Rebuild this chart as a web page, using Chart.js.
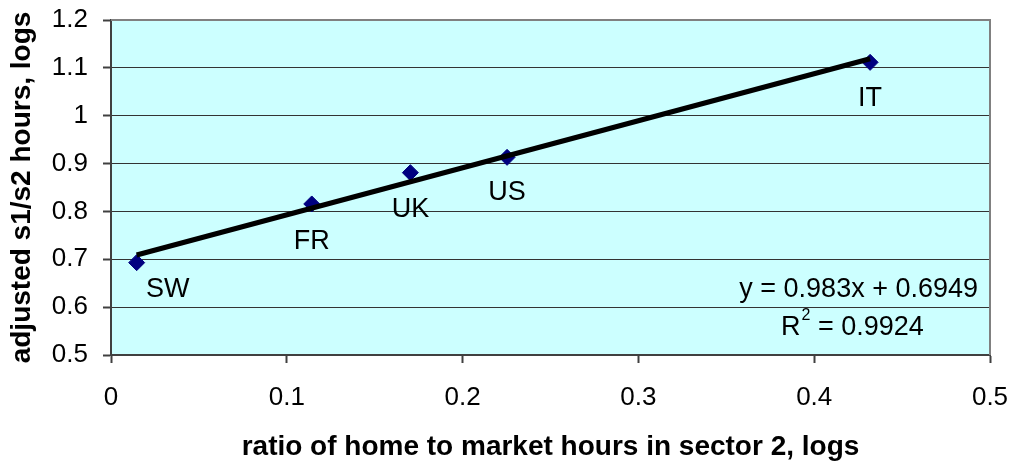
<!DOCTYPE html>
<html>
<head>
<meta charset="utf-8">
<script src="https://cdn.jsdelivr.net/npm/chart.js@4/dist/chart.umd.min.js"></script>
<style>
  body { margin: 0; background: #fff; }
  #wrap { width: 1016px; height: 464px; }
</style>
</head>
<body>
<div id="wrap"><canvas id="chart"></canvas></div>
<script>
const countries = ['SW', 'FR', 'UK', 'US', 'IT'];
const homeRatio = [0.0146, 0.1142, 0.1703, 0.2253, 0.4318];
const adjHours = [0.693, 0.8156, 0.881, 0.913, 1.1115];
const trendX = [0.0146, 0.4318];
const trendY = [0.709, 1.119];
const equationText = 'y = 0.983x + 0.6949';
const rSquaredText = '0.9924';

const FONT = "'Liberation Sans', Arial, sans-serif";

const points = homeRatio.map((x, i) => ({ x, y: adjHours[i] }));
const trend = trendX.map((x, i) => ({ x, y: trendY[i] }));

// where each country label sits relative to its marker
const labelOffsets = [[31, 27], [0, 38], [0, 37], [0, 35], [0, 36]];

const plotBackground = {
  id: 'plotBackground',
  beforeDraw(chart) {
    const { ctx, chartArea: a } = chart;
    ctx.save();
    ctx.fillStyle = '#CCFFFF';
    ctx.fillRect(a.left, a.top, a.right - a.left, a.bottom - a.top);
    ctx.restore();
  },
  afterDatasetsDraw(chart) {
    const { ctx, chartArea: a } = chart;
    ctx.save();
    ctx.strokeStyle = '#808080';
    ctx.lineWidth = 2;
    ctx.beginPath();
    ctx.moveTo(a.left, a.top);
    ctx.lineTo(a.right, a.top);
    ctx.lineTo(a.right, a.bottom);
    ctx.stroke();
    ctx.restore();
  }
};

const annotations = {
  id: 'annotations',
  afterDraw(chart) {
    const { ctx, chartArea: a } = chart;
    const meta = chart.getDatasetMeta(1);
    ctx.save();
    ctx.fillStyle = '#000';
    ctx.font = '27px ' + FONT;
    ctx.textAlign = 'center';
    ctx.textBaseline = 'middle';
    meta.data.forEach((pt, i) => {
      ctx.fillText(countries[i], pt.x + labelOffsets[i][0], pt.y + labelOffsets[i][1]);
    });

    ctx.textAlign = 'right';
    ctx.fillText(equationText, a.right - 12, 290);
    ctx.textAlign = 'left';
    let x = a.right - 209;
    ctx.fillText('R', x, 328);
    x += ctx.measureText('R').width;
    ctx.font = '16px ' + FONT;
    ctx.fillText('2', x + 1, 316);
    x += ctx.measureText('2').width + 1;
    ctx.font = '27px ' + FONT;
    ctx.fillText(' = ' + rSquaredText, x, 328);
    ctx.restore();
  }
};

new Chart(document.getElementById('chart'), {
  type: 'scatter',
  data: {
    datasets: [
      {
        type: 'line',
        data: trend,
        borderColor: '#000',
        borderWidth: 5,
        pointRadius: 0,
        fill: false,
        order: 1
      },
      {
        data: points,
        pointStyle: 'rectRot',
        pointRadius: 8,
        backgroundColor: '#000080',
        borderColor: '#000080',
        borderWidth: 1,
        order: 2
      }
    ]
  },
  options: {
    responsive: true,
    maintainAspectRatio: false,
    animation: false,
    layout: { padding: { top: 20, right: 26, left: 0, bottom: 0 } },
    plugins: {
      legend: { display: false },
      tooltip: { enabled: false }
    },
    scales: {
      x: {
        type: 'linear',
        min: 0,
        max: 0.5,
        afterFit(scale) {
          scale.height = 109;
          scale.paddingLeft = 0;
          scale.paddingRight = 0;
        },
        ticks: {
          stepSize: 0.1,
          color: '#000',
          padding: 19,
          maxRotation: 0,
          font: { family: FONT, size: 26 },
          callback: v => String(Math.round(v * 10) / 10)
        },
        grid: {
          drawOnChartArea: false,
          drawTicks: true,
          tickLength: 8,
          tickColor: '#404040',
          tickWidth: 2
        },
        border: { color: '#404040', width: 2 },
        title: {
          display: true,
          text: 'ratio of home to market hours in sector 2, logs',
          color: '#000',
          font: { family: FONT, size: 28, weight: 'bold' },
          padding: { top: 0, bottom: 0 }
        }
      },
      y: {
        type: 'linear',
        min: 0.5,
        max: 1.2,
        afterFit(scale) {
          scale.width = 111;
          scale.paddingTop = 0;
          scale.paddingBottom = 0;
        },
        ticks: {
          stepSize: 0.1,
          color: '#000',
          padding: 15,
          font: { family: FONT, size: 26 },
          callback: v => String(Math.round(v * 10) / 10)
        },
        grid: {
          color: ctx => (ctx.tick && Math.abs(ctx.tick.value - 1.2) < 1e-6) ? '#808080' : '#333333',
          lineWidth: 1,
          drawTicks: true,
          tickLength: 8,
          tickColor: '#404040',
          tickWidth: 2
        },
        border: { color: '#404040', width: 2 },
        title: {
          display: true,
          text: 'adjusted s1/s2 hours, logs',
          color: '#000',
          font: { family: FONT, size: 28, weight: 'bold' },
          padding: { top: 5, bottom: 0 }
        }
      }
    }
  },
  plugins: [plotBackground, annotations]
});
</script>
</body>
</html>
